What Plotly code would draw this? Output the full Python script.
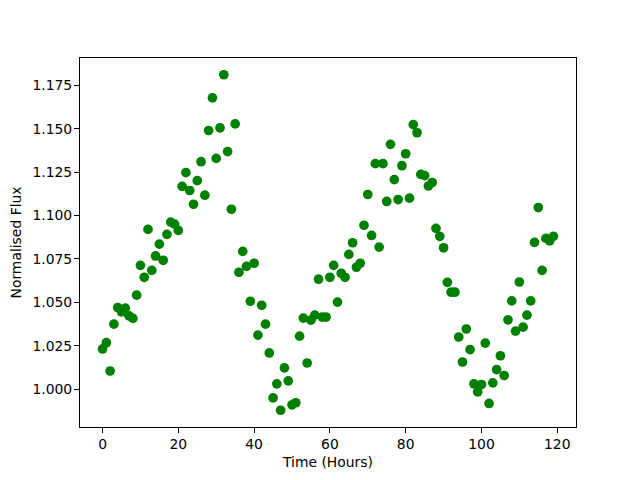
import plotly.graph_objects as go

hours = list(range(120))
flux = [
    1.0231, 1.0267, 1.0104, 1.0374, 1.0470, 1.0445, 1.0466, 1.0422, 1.0407, 1.0541,
    1.0713, 1.0644, 1.0920, 1.0684, 1.0767, 1.0835, 1.0742, 1.0891, 1.0962, 1.0950,
    1.0914, 1.1168, 1.1247, 1.1144, 1.1065, 1.1201, 1.1310, 1.1117, 1.1490, 1.1678,
    1.1329, 1.1505, 1.1811, 1.1368, 1.1036, 1.1528, 1.0673, 1.0793, 1.0707, 1.0506,
    1.0725, 1.0311, 1.0483, 1.0374, 1.0208, 0.9949, 1.0030, 0.9878, 1.0122, 1.0047,
    0.9909, 0.9921, 1.0305, 1.0409, 1.0150, 1.0397, 1.0426, 1.0633, 1.0415, 1.0415,
    1.0644, 1.0713, 1.0501, 1.0667, 1.0644, 1.0776, 1.0843, 1.0702, 1.0725, 1.0944,
    1.1121, 1.0885, 1.1299, 1.0818, 1.1299, 1.1081, 1.1410, 1.1207, 1.1092, 1.1287,
    1.1356, 1.1100, 1.1524, 1.1477, 1.1237, 1.1230, 1.1170, 1.1190, 1.0926, 1.0880,
    1.0814, 1.0615, 1.0558, 1.0558, 1.0300, 1.0156, 1.0346, 1.0227, 1.0030, 0.9984,
    1.0026, 1.0265, 0.9917, 1.0036, 1.0112, 1.0192, 1.0078, 1.0399, 1.0508, 1.0334,
    1.0617, 1.0357, 1.0426, 1.0508, 1.0845, 1.1046, 1.0684, 1.0868, 1.0854, 1.0880,
]

x_label = "Time (Hours)"
y_label = "Normalised Flux"

xmin, xmax = min(hours), max(hours)
ymin, ymax = min(flux), max(flux)
xpad = 0.05 * (xmax - xmin)
ypad = 0.05 * (ymax - ymin)

fig = go.Figure(
    go.Scatter(
        x=hours, y=flux, mode="markers",
        marker=dict(color="#008000", size=9.7, line=dict(width=0)),
    )
)

font = dict(family="DejaVu Sans", size=13.9, color="black")
axis_common = dict(
    showline=True, linecolor="black", linewidth=1, mirror=True,
    ticks="outside", ticklen=5, tickwidth=1, tickcolor="black",
    showgrid=False, zeroline=False, tickfont=font, automargin=False,
)

# The page body has an 8px default margin, so the figure is sized and
# offset to put the plotting area where the reference has it.
fig.update_layout(
    width=632, height=472,
    margin=dict(l=72, r=64, t=50, b=53),
    paper_bgcolor="white", plot_bgcolor="white",
    showlegend=False,
    font=font,
    xaxis=dict(range=[xmin - xpad, xmax + xpad], dtick=20, tick0=0,
               ticklabelstandoff=-1,
               title=dict(text=x_label, font=font, standoff=6), **axis_common),
    yaxis=dict(range=[ymin - ypad, ymax + ypad], dtick=0.025, tick0=1.0,
               tickformat=".3f", ticklabelstandoff=-1,
               title=dict(text=y_label, font=font, standoff=8), **axis_common),
)

fig.write_html("out.html")
